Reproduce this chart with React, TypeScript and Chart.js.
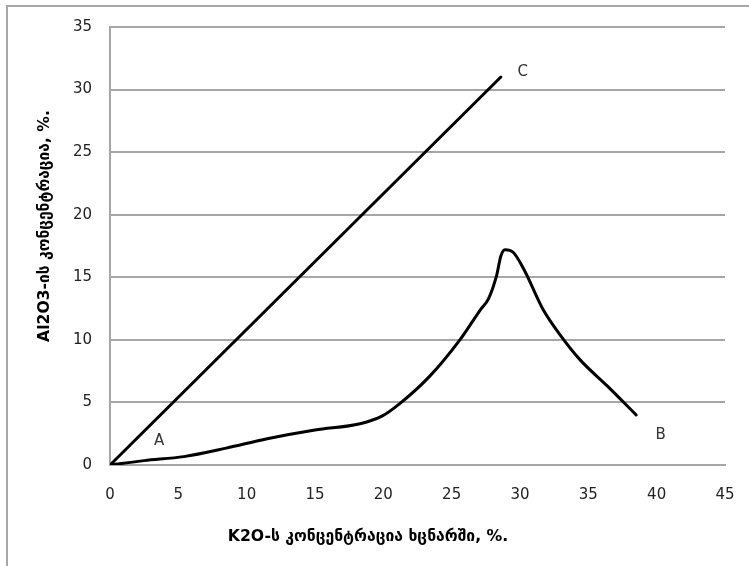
import React, { useEffect, useRef } from "react";
import { Chart, registerables } from "chart.js";

Chart.register(...registerables);

// Line A–C (straight)
const lineCX = [0, 28.6];
const lineCY = [0, 31];

// Curve A–B
const curveX = [0, 2.5, 5.4, 8.5, 11.5, 15, 18.3, 19.9, 21.2, 23.4, 25.6, 27.1, 27.7, 28.3, 28.6, 28.9, 29.5, 30.3, 31.7, 33.0, 34.4, 36.4, 38.5];
const curveY = [0, 0.35, 0.67, 1.35, 2.1, 2.8, 3.3, 3.9, 4.9, 7.1, 10, 12.4, 13.3, 15.2, 16.7, 17.2, 17.0, 15.6, 12.4, 10.3, 8.4, 6.3, 4.0];

// Point labels
const labelTexts = ["A", "B", "C"];
const labelX = [3.6, 40.3, 30.2];
const labelY = [1.9, 2.4, 31.4];

// Axes
const xTicks = [0, 5, 10, 15, 20, 25, 30, 35, 40, 45];
const yTicks = [0, 5, 10, 15, 20, 25, 30, 35];
const xTitle = "K2O-ს კონცენტრაცია ხცნარში, %.";
const yTitle = "Al2O3-ის კონცენტრაცია, %.";

const FONT = "'DejaVu Sans', Verdana, sans-serif";

const overlayPlugin = {
  id: "overlay",
  afterDatasetsDraw(chart: any) {
    const ctx = chart.ctx;
    const xs = chart.scales.x;
    const ys = chart.scales.y;
    ctx.save();
    // point labels
    ctx.fillStyle = "#333";
    ctx.font = `15px ${FONT}`;
    ctx.textAlign = "center";
    ctx.textBaseline = "middle";
    labelTexts.forEach((t, i) => {
      ctx.fillText(t, xs.getPixelForValue(labelX[i]), ys.getPixelForValue(labelY[i]));
    });
    // axis titles
    const fitFont = (text: string, target: number) => {
      ctx.font = `bold 14px ${FONT}`;
      const w = ctx.measureText(text).width;
      const size = Math.max(10, Math.min(16, (14 * target) / w));
      ctx.font = `bold ${size.toFixed(1)}px ${FONT}`;
    };
    ctx.fillStyle = "#000";
    fitFont(xTitle, 280);
    ctx.fillText(xTitle, 368, 537);
    ctx.save();
    ctx.translate(45, 226);
    ctx.rotate(-Math.PI / 2);
    fitFont(yTitle, 232);
    ctx.fillText(yTitle, 0, 0);
    ctx.restore();
    ctx.restore();
  },
};

export default function App() {
  const ref = useRef<HTMLCanvasElement>(null);
  useEffect(() => {
    if (!ref.current) return;
    const chart = new Chart(ref.current, {
      type: "scatter",
      data: {
        datasets: [
          {
            label: "C",
            data: lineCX.map((x, i) => ({ x, y: lineCY[i] })),
            showLine: true,
            borderColor: "#000",
            borderWidth: 3,
            pointRadius: 0,
            borderCapStyle: "round",
          },
          {
            label: "B",
            data: curveX.map((x, i) => ({ x, y: curveY[i] })),
            showLine: true,
            borderColor: "#000",
            borderWidth: 3,
            pointRadius: 0,
            cubicInterpolationMode: "monotone",
            borderCapStyle: "round",
            borderJoinStyle: "round",
          },
        ],
      },
      options: {
        responsive: false,
        animation: false,
        layout: { padding: { left: 0, right: 24, top: 27, bottom: 0 } },
        plugins: { legend: { display: false }, tooltip: { enabled: false } },
        scales: {
          x: {
            type: "linear",
            min: 0,
            max: 45,
            afterBuildTicks: (s: any) => {
              s.ticks = xTicks.map((v) => ({ value: v }));
            },
            afterFit: (s: any) => {
              s.height = 101;
              s.paddingLeft = 0;
              s.paddingRight = 0;
            },
            grid: { display: false, drawTicks: false },
            border: { display: true, color: "#a6a6a6", width: 2 },
            ticks: { color: "#222", font: { family: FONT, size: 15 }, padding: 21, maxRotation: 0 },
          },
          y: {
            type: "linear",
            min: 0,
            max: 35,
            afterBuildTicks: (s: any) => {
              s.ticks = yTicks.map((v) => ({ value: v }));
            },
            afterFit: (s: any) => {
              s.width = 110;
              s.paddingTop = 0;
              s.paddingBottom = 0;
            },
            grid: { color: "#a6a6a6", lineWidth: 2, drawTicks: false },
            border: { display: true, color: "#a6a6a6", width: 2 },
            ticks: { color: "#222", font: { family: FONT, size: 15 }, padding: 18 },
          },
        },
      },
      plugins: [overlayPlugin],
    } as any);
    return () => chart.destroy();
  }, []);
  return (
    <div style={{ position: "fixed", left: 0, top: 0, width: 749, height: 566, background: "#fff", overflow: "hidden" }}>
      <canvas ref={ref} width={749} height={566} style={{ position: "absolute", left: 0, top: 0, width: 749, height: 566 }} />
      <div style={{ position: "absolute", left: 6, top: 5, right: 0, bottom: 0, borderTop: "2px solid #a6a6a6", borderLeft: "2px solid #a6a6a6", pointerEvents: "none" }} />
    </div>
  );
}
